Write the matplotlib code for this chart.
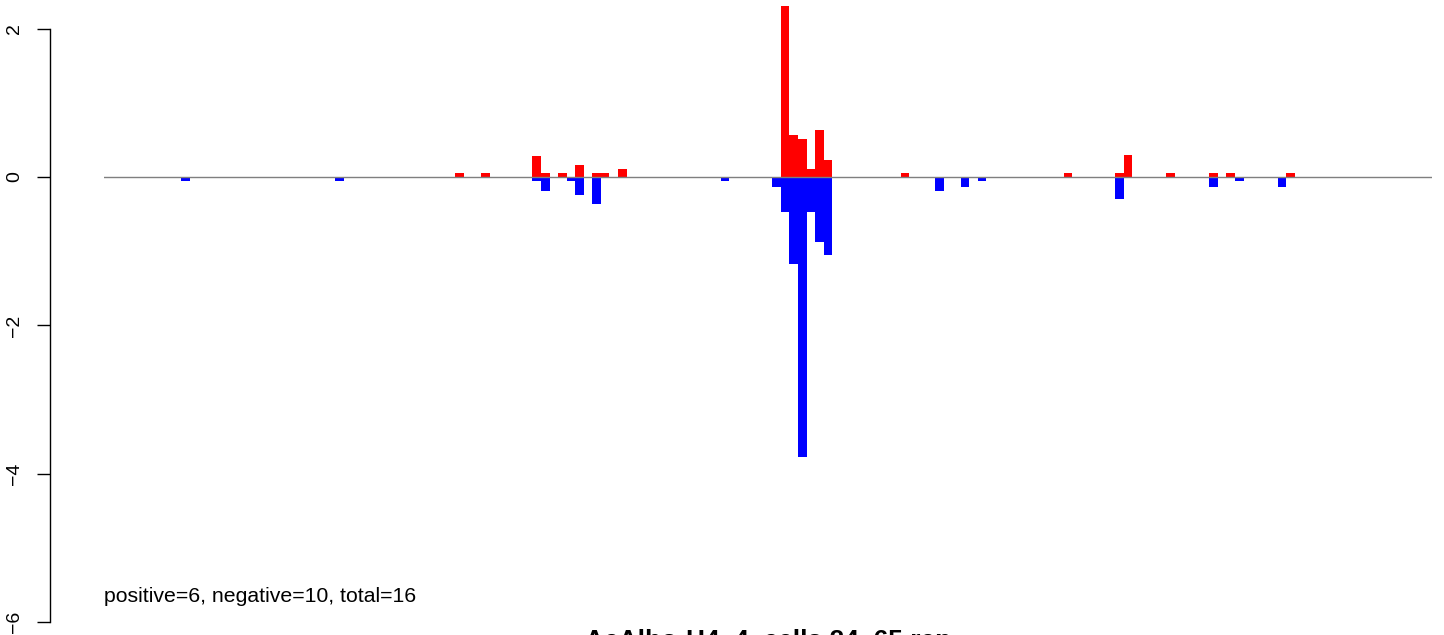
import matplotlib
matplotlib.use("Agg")
import matplotlib.pyplot as plt
import numpy as np

matplotlib.rcParams['font.family'] = ['Liberation Sans', 'DejaVu Sans']

# bin index -> value (red = gained, blue = lost)
n_bins = 155
pos_bins = [41, 44, 50, 51, 53, 55, 57, 58, 60, 79, 80, 81, 82, 83, 84,
            93, 112, 118, 119, 124, 129, 131, 138]
pos_vals = [0.06, 0.06, 0.28, 0.06, 0.06, 0.16, 0.06, 0.06, 0.11, 2.30, 0.57, 0.51, 0.11, 0.63, 0.23,
            0.06, 0.06, 0.06, 0.29, 0.06, 0.06, 0.06, 0.06]
neg_bins = [9, 27, 50, 51, 54, 55, 57, 72, 78, 79, 80, 81, 82, 83, 84,
            97, 100, 102, 118, 129, 132, 137]
neg_vals = [-0.06, -0.06, -0.06, -0.19, -0.06, -0.24, -0.36, -0.06, -0.13, -0.47, -1.17, -3.77, -0.47, -0.88, -1.05,
            -0.19, -0.13, -0.06, -0.29, -0.13, -0.06, -0.13]
y_ticks = [-6, -4, -2, 0, 2]
note = "positive=6, negative=10, total=16"
title = "AcAlbo-H4_4_cells 24_65 rep"

W, H = 1444, 635
fig = plt.figure(figsize=(W / 100, H / 100), dpi=100)
ax = fig.add_axes([104 / W, 0, (1432 - 104) / W, 1])

ax.bar(pos_bins, pos_vals, width=1, align='edge', color='#FF0000', linewidth=0)
ax.bar(neg_bins, neg_vals, width=1, align='edge', color='#0000FF', linewidth=0)
ax.axhline(0, color='#7f7f7f', lw=1.0, zorder=5)

ax.set_xlim(0, n_bins)
ax.set_ylim((177 - H) / 74.2, 177 / 74.2)

for s in ['top', 'right', 'bottom']:
    ax.spines[s].set_visible(False)
ax.spines['left'].set_position(('outward', 54 * 0.72))
ax.spines['left'].set_bounds(-6, 2)
ax.spines['left'].set_linewidth(1.0)
ax.set_xticks([])
ax.set_yticks(y_ticks)
ax.set_yticklabels([str(t).replace('-', '\u2212') for t in y_ticks], rotation=90, va='center')
ax.tick_params(axis='y', length=13 * 0.72, width=1.0, pad=10, labelsize=14)

ax.text(0, (177 - 597) / 74.2, note, ha='left', va='center', fontsize=15.3)
fig.text(768 / W, 1 - 629 / H, title, ha='center', va='top', fontsize=19, fontweight='bold')

fig.savefig('out.png', dpi=100)
